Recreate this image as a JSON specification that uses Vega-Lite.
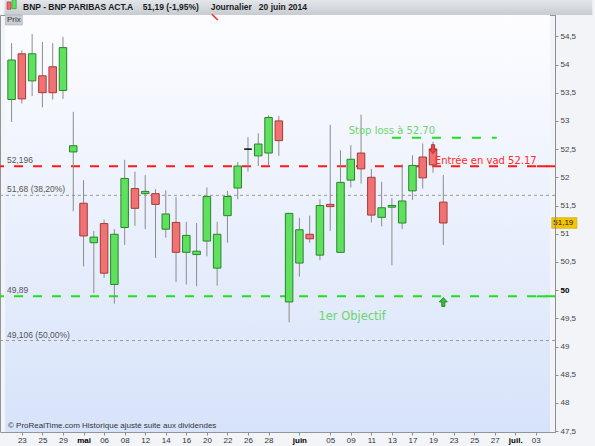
{
  "$schema": "https://vega.github.io/schema/vega-lite/v6.json",
  "width": 555,
  "height": 417,
  "autosize": {"type": "none"},
  "padding": {"left": 0, "top": 15, "right": 40, "bottom": 14},
  "background": "#f2f4f7",
  "config": {
    "view": {"stroke": "#8e969e", "strokeWidth": 1},
    "axis": {"grid": false, "labelFont": "Liberation Sans", "labelFontSize": 8, "labelColor": "#333333", "domainColor": "#8a8f96", "tickColor": "#8a8f96", "labelOverlap": false, "labelFlush": false, "labelBound": false}
  },
  "datasets": {
    "candles": [
      {"date": "2014-04-22", "i": 0, "open": 53.38, "high": 54.38, "low": 52.98, "close": 54.08},
      {"date": "2014-04-23", "i": 1, "open": 54.19, "high": 54.25, "low": 53.31, "close": 53.39},
      {"date": "2014-04-24", "i": 2, "open": 53.71, "high": 54.54, "low": 53.44, "close": 54.19},
      {"date": "2014-04-25", "i": 3, "open": 53.80, "high": 54.40, "low": 53.24, "close": 53.50},
      {"date": "2014-04-28", "i": 4, "open": 53.96, "high": 54.38, "low": 53.38, "close": 53.50},
      {"date": "2014-04-29", "i": 5, "open": 53.54, "high": 54.49, "low": 53.39, "close": 54.30},
      {"date": "2014-04-30", "i": 6, "open": 52.45, "high": 53.16, "low": 51.40, "close": 52.56},
      {"date": "2014-05-02", "i": 7, "open": 51.54, "high": 51.95, "low": 50.42, "close": 50.96},
      {"date": "2014-05-05", "i": 8, "open": 50.84, "high": 51.05, "low": 49.95, "close": 50.94},
      {"date": "2014-05-06", "i": 9, "open": 51.18, "high": 51.25, "low": 50.22, "close": 50.30},
      {"date": "2014-05-07", "i": 10, "open": 50.10, "high": 51.08, "low": 49.76, "close": 50.99},
      {"date": "2014-05-08", "i": 11, "open": 51.11, "high": 52.31, "low": 50.80, "close": 51.98},
      {"date": "2014-05-09", "i": 12, "open": 51.80, "high": 52.10, "low": 51.14, "close": 51.45},
      {"date": "2014-05-12", "i": 13, "open": 51.71, "high": 52.04, "low": 51.08, "close": 51.75},
      {"date": "2014-05-13", "i": 14, "open": 51.71, "high": 51.79, "low": 50.57, "close": 51.52},
      {"date": "2014-05-14", "i": 15, "open": 51.08, "high": 51.77, "low": 50.93, "close": 51.35},
      {"date": "2014-05-15", "i": 16, "open": 51.20, "high": 51.65, "low": 50.14, "close": 50.67},
      {"date": "2014-05-16", "i": 17, "open": 50.67, "high": 51.21, "low": 50.10, "close": 50.97},
      {"date": "2014-05-19", "i": 18, "open": 50.63, "high": 51.19, "low": 50.07, "close": 50.69},
      {"date": "2014-05-20", "i": 19, "open": 50.87, "high": 51.82, "low": 50.60, "close": 51.66},
      {"date": "2014-05-21", "i": 20, "open": 50.39, "high": 51.21, "low": 50.08, "close": 50.99},
      {"date": "2014-05-22", "i": 21, "open": 51.32, "high": 51.76, "low": 50.84, "close": 51.66},
      {"date": "2014-05-23", "i": 22, "open": 51.81, "high": 52.27, "low": 51.61, "close": 52.20},
      {"date": "2014-05-26", "i": 23, "open": 52.50, "high": 52.71, "low": 52.10, "close": 52.50},
      {"date": "2014-05-27", "i": 24, "open": 52.38, "high": 52.78, "low": 52.20, "close": 52.59},
      {"date": "2014-05-28", "i": 25, "open": 52.43, "high": 53.10, "low": 52.21, "close": 53.06},
      {"date": "2014-05-29", "i": 26, "open": 53.00, "high": 53.09, "low": 52.38, "close": 52.65},
      {"date": "2014-05-30", "i": 27, "open": 49.79, "high": 51.37, "low": 49.43, "close": 51.36},
      {"date": "2014-06-02", "i": 28, "open": 50.48, "high": 51.28, "low": 50.24, "close": 51.07},
      {"date": "2014-06-03", "i": 29, "open": 50.99, "high": 51.32, "low": 50.84, "close": 50.91},
      {"date": "2014-06-04", "i": 30, "open": 50.62, "high": 51.61, "low": 50.53, "close": 51.50},
      {"date": "2014-06-05", "i": 31, "open": 51.52, "high": 52.93, "low": 51.05, "close": 51.48},
      {"date": "2014-06-06", "i": 32, "open": 50.67, "high": 52.48, "low": 50.66, "close": 51.91},
      {"date": "2014-06-09", "i": 33, "open": 51.95, "high": 52.57, "low": 51.82, "close": 52.32},
      {"date": "2014-06-10", "i": 34, "open": 52.43, "high": 53.11, "low": 51.89, "close": 52.15},
      {"date": "2014-06-11", "i": 35, "open": 52.00, "high": 52.15, "low": 51.20, "close": 51.33},
      {"date": "2014-06-12", "i": 36, "open": 51.29, "high": 51.92, "low": 51.13, "close": 51.46},
      {"date": "2014-06-13", "i": 37, "open": 51.47, "high": 51.63, "low": 50.44, "close": 51.50},
      {"date": "2014-06-16", "i": 38, "open": 51.19, "high": 52.23, "low": 51.08, "close": 51.58},
      {"date": "2014-06-17", "i": 39, "open": 51.76, "high": 52.39, "low": 51.60, "close": 52.21},
      {"date": "2014-06-18", "i": 40, "open": 52.36, "high": 52.60, "low": 51.80, "close": 51.99},
      {"date": "2014-06-19", "i": 41, "open": 52.50, "high": 52.63, "low": 52.08, "close": 52.22},
      {"date": "2014-06-20", "i": 42, "open": 51.56, "high": 52.04, "low": 50.80, "close": 51.19}
    ],
    "levels": [
      {"name": "stop", "value": 52.70, "label": ""},
      {"name": "entry", "value": 52.196, "label": "52,196"},
      {"name": "fib38", "value": 51.68, "label": "51,68 (38,20%)"},
      {"name": "target", "value": 49.89, "label": "49,89"},
      {"name": "fib50", "value": 49.106, "label": "49,106 (50,00%)"}
    ]
  },
  "layer": [
    {
      "data": {"name": "candles"},
      "mark": {"type": "tick", "opacity": 0},
      "encoding": {
        "x": {
          "field": "i", "type": "quantitative",
          "scale": {"domain": [-0.64, 52.38], "nice": false, "zero": false},
          "axis": {
            "orient": "bottom", "zindex": 1, "tickCount": 100,
            "values": [1, 3, 5, 7, 9, 11, 13, 15, 17, 19, 21, 23, 25, 28, 31, 33, 35, 37, 39, 41, 43, 45, 47, 49, 51],
            "labelExpr": "{'1':'23','3':'25','5':'29','7':'mai','9':'06','11':'08','13':'12','15':'14','17':'16','19':'20','21':'22','23':'26','25':'28','28':'juin','31':'05','33':'09','35':'11','37':'13','39':'17','41':'19','43':'23','45':'25','47':'27','49':'juil.','51':'03'}[datum.value]",
            "labelFontWeight": {"condition": {"test": "datum.value == 7 || datum.value == 28 || datum.value == 49", "value": "bold"}, "value": "normal"},
            "labelColor": {"condition": {"test": "datum.value == 7 || datum.value == 28 || datum.value == 49", "value": "#000000"}, "value": "#333333"},
            "tickSize": 3, "labelPadding": 1, "domain": false, "labelFlush": false, "labelOverlap": false, "title": null
          }
        },
        "y": {
          "field": "low", "type": "quantitative",
          "scale": {"domain": [47.484, 54.878], "nice": false, "zero": false},
          "axis": {
            "orient": "right", "zindex": 1, "tickCount": 100,
            "values": [47.5, 48, 48.5, 49, 49.5, 50, 50.5, 51, 51.5, 52, 52.5, 53, 53.5, 54, 54.5],
            "labelExpr": "replace(toString(datum.value), '.', ',')",
            "labelFontWeight": {"condition": {"test": "datum.value == 50", "value": "bold"}, "value": "normal"},
            "labelColor": {"condition": {"test": "datum.value == 50", "value": "#000000"}, "value": "#444444"},
            "tickSize": 3, "labelPadding": 2, "labelFlush": false, "labelOverlap": false, "title": null
          }
        }
      }
    },
    {
      "data": {"values": [{}]},
      "mark": {"type": "rect", "color": {"gradient": "linear", "x1": 0, "y1": 0, "x2": 0, "y2": 1, "stops": [{"offset": 0, "color": "#fdfdff"}, {"offset": 1, "color": "#d7e3fa"}]}},
      "encoding": {
        "x": {"datum": -0.64, "type": "quantitative"},
        "x2": {"datum": 52.38},
        "y": {"datum": 47.484, "type": "quantitative"},
        "y2": {"datum": 54.878}
      }
    },
    {
      "data": {"values": [{}]},
      "mark": {"type": "rect", "color": {"gradient": "linear", "x1": 0, "y1": 0, "x2": 0, "y2": 1, "stops": [{"offset": 0, "color": "#e9ecef"}, {"offset": 1, "color": "#c6ccd2"}]}},
      "encoding": {
        "x": {"datum": -0.7, "type": "quantitative"},
        "x2": {"datum": 56.5},
        "y": {"datum": 55.2, "type": "quantitative"},
        "y2": {"datum": 54.878}
      }
    },
    {
      "data": {"values": [{}]},
      "mark": {"type": "rect", "color": "#ef6a6a", "stroke": "#a03030", "strokeWidth": 0.6},
      "encoding": {
        "x": {"datum": -0.44, "type": "quantitative"},
        "x2": {"datum": -0.05},
        "y": {"datum": 55.11, "type": "quantitative"},
        "y2": {"datum": 54.98}
      }
    },
    {
      "data": {"values": [{}]},
      "mark": {"type": "rect", "color": "#5fe05f", "stroke": "#2a852a", "strokeWidth": 0.6},
      "encoding": {
        "x": {"datum": 0.05, "type": "quantitative"},
        "x2": {"datum": 0.45},
        "y": {"datum": 55.15, "type": "quantitative"},
        "y2": {"datum": 54.99}
      }
    },
    {
      "data": {"values": [{}]},
      "mark": {"type": "text", "text": "BNP - BNP PARIBAS ACT.A\u00a0\u00a0\u00a0 51,19 (-1,95%)\u00a0\u00a0\u00a0\u00a0 Journalier\u00a0\u00a0 20 juin 2014", "align": "left", "baseline": "alphabetic", "dx": 18, "font": "Liberation Sans", "fontSize": 8.5, "fontWeight": "bold", "color": "#1b1b1b"},
      "encoding": {
        "x": {"datum": -0.64, "type": "quantitative"},
        "y": {"datum": 54.967, "type": "quantitative"}
      }
    },
    {
      "data": {"values": [{}]},
      "mark": {"type": "rule", "color": "#ff2020", "strokeWidth": 1.5},
      "encoding": {
        "x": {"datum": 19.49, "type": "quantitative"},
        "x2": {"datum": 20.06},
        "y": {"datum": 54.89, "type": "quantitative"},
        "y2": {"datum": 54.79}
      }
    },
    {
      "data": {"values": [{}]},
      "mark": {"type": "rect", "color": "#c9ced4", "stroke": "#9aa1a8", "strokeWidth": 0.5},
      "encoding": {
        "x": {"datum": -0.6, "type": "quantitative"},
        "x2": {"datum": 1.05},
        "y": {"datum": 54.878, "type": "quantitative"},
        "y2": {"datum": 54.70}
      }
    },
    {
      "data": {"values": [{}]},
      "mark": {"type": "text", "text": "Prix", "align": "left", "baseline": "middle", "dx": 2, "font": "Liberation Sans", "fontSize": 8, "color": "#333333"},
      "encoding": {
        "x": {"datum": -0.64, "type": "quantitative"},
        "y": {"datum": 54.79, "type": "quantitative"}
      }
    },
    {
      "data": {"name": "levels"},
      "transform": [{"filter": "datum.name == 'fib38' || datum.name == 'fib50'"}],
      "mark": {"type": "rule", "color": "#9a9a9a", "strokeWidth": 1, "strokeDash": [3, 3]},
      "encoding": {"y": {"field": "value", "type": "quantitative"}}
    },
    {
      "data": {"name": "levels"},
      "transform": [{"filter": "datum.name == 'entry'"}],
      "mark": {"type": "rule", "color": "#ff1a1a", "strokeWidth": 2, "strokeDash": [9, 10]},
      "encoding": {"y": {"field": "value", "type": "quantitative"}}
    },
    {
      "data": {"name": "levels"},
      "transform": [{"filter": "datum.name == 'target'"}],
      "mark": {"type": "rule", "color": "#1fe01f", "strokeWidth": 2, "strokeDash": [9, 10]},
      "encoding": {"y": {"field": "value", "type": "quantitative"}}
    },
    {
      "data": {"name": "levels"},
      "transform": [{"filter": "datum.name == 'stop'"}],
      "mark": {"type": "rule", "color": "#1fe01f", "strokeWidth": 2, "strokeDash": [9, 11]},
      "encoding": {
        "x": {"datum": 37.0, "type": "quantitative"},
        "x2": {"datum": 47.2},
        "y": {"field": "value", "type": "quantitative"}
      }
    },
    {
      "data": {"name": "levels"},
      "transform": [{"filter": "datum.name == 'entry'"}],
      "mark": {"type": "rule", "color": "#ff1a1a", "strokeWidth": 2},
      "encoding": {
        "x": {"datum": 51.1, "type": "quantitative"},
        "x2": {"datum": 52.1},
        "y": {"field": "value", "type": "quantitative"}
      }
    },
    {
      "data": {"name": "levels"},
      "transform": [{"filter": "datum.name == 'target'"}],
      "mark": {"type": "rule", "color": "#1fe01f", "strokeWidth": 2},
      "encoding": {
        "x": {"datum": 51.1, "type": "quantitative"},
        "x2": {"datum": 52.1},
        "y": {"field": "value", "type": "quantitative"}
      }
    },
    {
      "data": {"name": "levels"},
      "transform": [{"filter": "datum.label != ''"}],
      "mark": {"type": "text", "align": "left", "baseline": "alphabetic", "dx": 2, "dy": -3, "font": "Liberation Sans", "fontSize": 8.5, "color": "#555555"},
      "encoding": {
        "x": {"datum": -0.64, "type": "quantitative"},
        "y": {"field": "value", "type": "quantitative"},
        "text": {"field": "label"}
      }
    },
    {
      "data": {"name": "candles"},
      "mark": {"type": "rule", "color": "#8c8c8c", "strokeWidth": 1},
      "encoding": {
        "x": {"field": "i", "type": "quantitative"},
        "y": {"field": "low", "type": "quantitative"},
        "y2": {"field": "high"}
      }
    },
    {
      "data": {"name": "candles"},
      "mark": {"type": "bar", "width": 7.5, "strokeWidth": 1},
      "encoding": {
        "x": {"field": "i", "type": "quantitative"},
        "y": {"field": "open", "type": "quantitative"},
        "y2": {"field": "close"},
        "fill": {"condition": [{"test": "datum.close > datum.open", "value": "#5fe05f"}, {"test": "datum.close < datum.open", "value": "#f07272"}], "value": "#000000"},
        "stroke": {"condition": [{"test": "datum.close > datum.open", "value": "#2a852a"}, {"test": "datum.close < datum.open", "value": "#a63a3a"}], "value": "#000000"}
      }
    },
    {
      "data": {"values": [{}]},
      "mark": {"type": "text", "text": "Stop loss à 52.70", "align": "center", "baseline": "middle", "dy": -7, "font": "DejaVu Sans", "fontSize": 10, "color": "#6cd56c"},
      "encoding": {
        "x": {"datum": 37.0, "type": "quantitative"},
        "y": {"datum": 52.70, "type": "quantitative"}
      }
    },
    {
      "data": {"values": [{}]},
      "mark": {"type": "text", "text": "Entrée en vad 52.17", "align": "center", "baseline": "middle", "dy": -5, "font": "DejaVu Sans", "fontSize": 10, "color": "#ff2a2a"},
      "encoding": {
        "x": {"datum": 46.13, "type": "quantitative"},
        "y": {"datum": 52.196, "type": "quantitative"}
      }
    },
    {
      "data": {"values": [{}]},
      "mark": {"type": "text", "text": "1er Objectif", "align": "center", "baseline": "middle", "dy": 21, "font": "DejaVu Sans", "fontSize": 11.5, "color": "#6cd56c"},
      "encoding": {
        "x": {"datum": 33.13, "type": "quantitative"},
        "y": {"datum": 49.89, "type": "quantitative"}
      }
    },
    {
      "data": {"values": [{}]},
      "mark": {"type": "point", "shape": "M0,-1L0.9,0L0.35,0L0.35,1L-0.35,1L-0.35,0L-0.9,0Z", "size": 80, "filled": true, "color": "#35c035", "stroke": "#1d7a1d", "strokeWidth": 0.8, "opacity": 1, "dy": 6},
      "encoding": {
        "x": {"datum": 42.0, "type": "quantitative"},
        "y": {"datum": 49.79, "type": "quantitative"}
      }
    },
    {
      "data": {"values": [{}]},
      "mark": {"type": "point", "shape": "M0,1L0.9,0L0.35,0L0.35,-1L-0.35,-1L-0.35,0L-0.9,0Z", "size": 80, "filled": true, "color": "#e84545", "stroke": "#a02a2a", "strokeWidth": 0.8, "opacity": 1},
      "encoding": {
        "x": {"datum": 41.0, "type": "quantitative"},
        "y": {"datum": 52.50, "type": "quantitative"}
      }
    },
    {
      "data": {"values": [{}]},
      "mark": {"type": "text", "text": "© ProRealTime.com  Historique ajusté suite aux dividendes", "align": "left", "baseline": "bottom", "dx": 3, "dy": -2, "font": "Liberation Sans", "fontSize": 8, "color": "#333333"},
      "encoding": {
        "x": {"datum": -0.64, "type": "quantitative"},
        "y": {"datum": 47.484, "type": "quantitative"}
      }
    },
    {
      "data": {"values": [{}]},
      "mark": {"type": "rect", "color": "#f5c400", "stroke": "#c99a00", "strokeWidth": 0.5},
      "encoding": {
        "x": {"datum": 52.55, "type": "quantitative"},
        "x2": {"datum": 55.0},
        "y": {"datum": 51.285, "type": "quantitative"},
        "y2": {"datum": 51.095}
      }
    },
    {
      "data": {"values": [{}]},
      "mark": {"type": "text", "text": "51,19", "align": "left", "baseline": "middle", "dx": 1, "font": "Liberation Sans", "fontSize": 8, "color": "#222222"},
      "encoding": {
        "x": {"datum": 52.6, "type": "quantitative"},
        "y": {"datum": 51.19, "type": "quantitative"}
      }
    }
  ]
}
